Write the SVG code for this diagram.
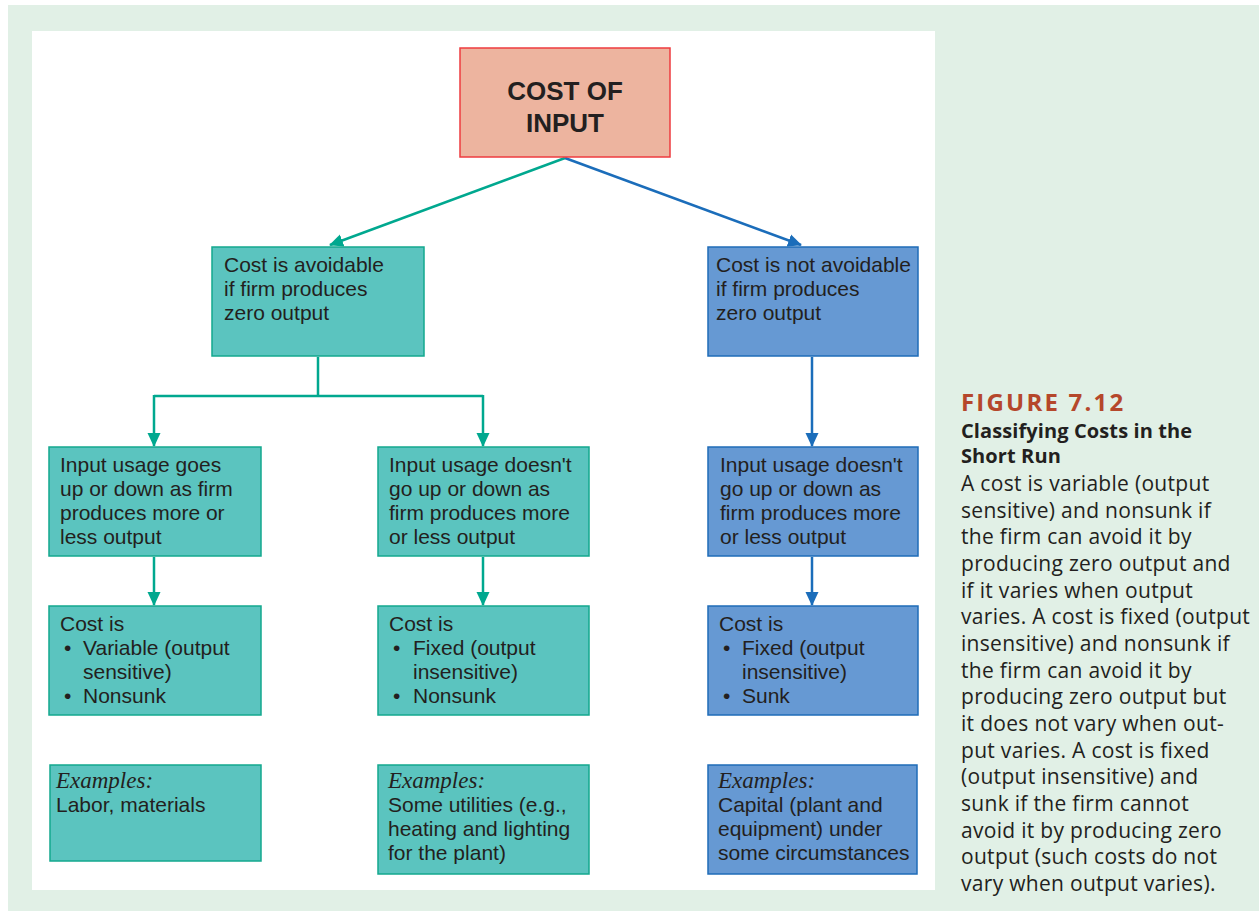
<svg xmlns="http://www.w3.org/2000/svg" width="1259" height="911" viewBox="0 0 1259 911">
<defs>
<style>
.t{font-family:"Liberation Sans",Arial,sans-serif;font-size:21px;fill:#231f20}
.ex{font-family:"Liberation Serif","Times New Roman",serif;font-style:italic;font-size:23px;fill:#231f20}
.teal{fill:#5bc4bf;stroke:#13a88e;stroke-width:1.5}
.blue{fill:#6699d3;stroke:#1f6cb8;stroke-width:1.5}
.ct{stroke:#00a88f;stroke-width:2.5;fill:none}
.cb{stroke:#1b6dba;stroke-width:2.5;fill:none}
.cap{font-family:"Open Sans","Noto Sans",sans-serif;fill:#231f20}
</style>
<marker id="at" markerUnits="userSpaceOnUse" markerWidth="14" markerHeight="14" viewBox="0 0 14 14" refX="13" refY="7" orient="auto"><path d="M0,0.5 L14,7 L0,13.5 Z" fill="#00a88f"/></marker>
<marker id="ab" markerUnits="userSpaceOnUse" markerWidth="14" markerHeight="14" viewBox="0 0 14 14" refX="13" refY="7" orient="auto"><path d="M0,0.5 L14,7 L0,13.5 Z" fill="#1b6dba"/></marker>
</defs>
<rect x="8" y="5" width="1251" height="906" fill="#e1f0e6"/>
<rect x="32" y="31" width="903" height="859" fill="#ffffff"/>

<g id="connectors">
<path class="ct" d="M565,158 L330,245" marker-end="url(#at)"/>
<path class="cb" d="M565,158 L801,245" marker-end="url(#ab)"/>
<path class="ct" d="M318,357 V396 M154,396 H483"/>
<path class="ct" d="M154,395 V446" marker-end="url(#at)"/>
<path class="ct" d="M483,395 V446" marker-end="url(#at)"/>
<path class="cb" d="M812,357 V446" marker-end="url(#ab)"/>
<path class="ct" d="M154,557 V605" marker-end="url(#at)"/>
<path class="ct" d="M483,557 V605" marker-end="url(#at)"/>
<path class="cb" d="M812,557 V605" marker-end="url(#ab)"/>
</g>

<g id="root">
<rect x="460" y="48" width="210" height="109" fill="#edb49f" stroke="#ee3b3f" stroke-width="1.5"/>
<text x="565" y="100" text-anchor="middle" font-family="Liberation Sans,Arial,sans-serif" font-weight="bold" font-size="26px" fill="#231f20">COST OF</text>
<text x="565" y="132" text-anchor="middle" font-family="Liberation Sans,Arial,sans-serif" font-weight="bold" font-size="26px" fill="#231f20">INPUT</text>
</g>

<g id="avoidable">
<rect class="teal" x="212" y="247" width="212" height="109"/>
<text class="t" x="224" y="272">Cost is avoidable</text>
<text class="t" x="224" y="296">if firm produces</text>
<text class="t" x="224" y="320">zero output</text>
</g>

<g id="not-avoidable">
<rect class="blue" x="708" y="247" width="210" height="109"/>
<text class="t" x="716" y="272">Cost is not avoidable</text>
<text class="t" x="716" y="296">if firm produces</text>
<text class="t" x="716" y="320">zero output</text>
</g>

<g id="usage-varies">
<rect class="teal" x="49" y="447" width="212" height="109"/>
<text class="t" x="60" y="472">Input usage goes</text>
<text class="t" x="60" y="496">up or down as firm</text>
<text class="t" x="60" y="520">produces more or</text>
<text class="t" x="60" y="544">less output</text>
</g>

<g id="usage-fixed-avoidable">
<rect class="teal" x="378" y="447" width="211" height="109"/>
<text class="t" x="389" y="472">Input usage doesn't</text>
<text class="t" x="389" y="496">go up or down as</text>
<text class="t" x="389" y="520">firm produces more</text>
<text class="t" x="389" y="544">or less output</text>
</g>

<g id="usage-fixed-unavoidable">
<rect class="blue" x="708" y="447" width="210" height="109"/>
<text class="t" x="720" y="472">Input usage doesn't</text>
<text class="t" x="720" y="496">go up or down as</text>
<text class="t" x="720" y="520">firm produces more</text>
<text class="t" x="720" y="544">or less output</text>
</g>

<g id="variable-nonsunk">
<rect class="teal" x="49" y="606" width="212" height="109"/>
<text class="t" x="60" y="631">Cost is</text>
<text class="t" x="64" y="655">•</text><text class="t" x="83" y="655">Variable (output</text>
<text class="t" x="83" y="679">sensitive)</text>
<text class="t" x="64" y="703">•</text><text class="t" x="83" y="703">Nonsunk</text>
</g>

<g id="fixed-nonsunk">
<rect class="teal" x="378" y="606" width="211" height="109"/>
<text class="t" x="389" y="631">Cost is</text>
<text class="t" x="393" y="655">•</text><text class="t" x="413" y="655">Fixed (output</text>
<text class="t" x="413" y="679">insensitive)</text>
<text class="t" x="393" y="703">•</text><text class="t" x="413" y="703">Nonsunk</text>
</g>

<g id="fixed-sunk">
<rect class="blue" x="708" y="606" width="210" height="109"/>
<text class="t" x="719" y="631">Cost is</text>
<text class="t" x="723" y="655">•</text><text class="t" x="742" y="655">Fixed (output</text>
<text class="t" x="742" y="679">insensitive)</text>
<text class="t" x="723" y="703">•</text><text class="t" x="742" y="703">Sunk</text>
</g>

<g id="examples-variable">
<rect class="teal" x="50" y="765" width="211" height="96"/>
<text class="ex" x="56" y="788">Examples:</text>
<text class="t" x="56" y="812">Labor, materials</text>
</g>

<g id="examples-fixed-nonsunk">
<rect class="teal" x="378" y="765" width="211" height="109"/>
<text class="ex" x="388" y="788">Examples:</text>
<text class="t" x="388" y="812">Some utilities (e.g.,</text>
<text class="t" x="388" y="836">heating and lighting</text>
<text class="t" x="388" y="860">for the plant)</text>
</g>

<g id="examples-sunk">
<rect class="blue" x="708" y="765" width="209" height="109"/>
<text class="ex" x="718" y="788">Examples:</text>
<text class="t" x="718" y="812">Capital (plant and</text>
<text class="t" x="718" y="836">equipment) under</text>
<text class="t" x="718" y="860">some circumstances</text>
</g>

<g id="caption">
<text class="cap" x="961" y="411" font-size="24px" font-weight="bold" letter-spacing="2.2" style="fill:#b5472b">FIGURE 7.12</text>
<text class="cap" x="961" y="438" font-size="20px" font-weight="bold" letter-spacing="0.1">Classifying Costs in the</text>
<text class="cap" x="961" y="463" font-size="20px" font-weight="bold" letter-spacing="0.1">Short Run</text>
<g class="cap" font-size="21px" letter-spacing="0.3">
<text x="961" y="491">A cost is variable (output</text>
<text x="961" y="517.7">sensitive) and nonsunk if</text>
<text x="961" y="544.4">the firm can avoid it by</text>
<text x="961" y="571">producing zero output and</text>
<text x="961" y="597.7">if it varies when output</text>
<text x="961" y="624.4">varies. A cost is fixed (output</text>
<text x="961" y="651">insensitive) and nonsunk if</text>
<text x="961" y="677.7">the firm can avoid it by</text>
<text x="961" y="704.4">producing zero output but</text>
<text x="961" y="731">it does not vary when out-</text>
<text x="961" y="757.7">put varies. A cost is fixed</text>
<text x="961" y="784.4">(output insensitive) and</text>
<text x="961" y="811">sunk if the firm cannot</text>
<text x="961" y="837.7">avoid it by producing zero</text>
<text x="961" y="864.4">output (such costs do not</text>
<text x="961" y="891">vary when output varies).</text>
</g>
</g>
</svg>
